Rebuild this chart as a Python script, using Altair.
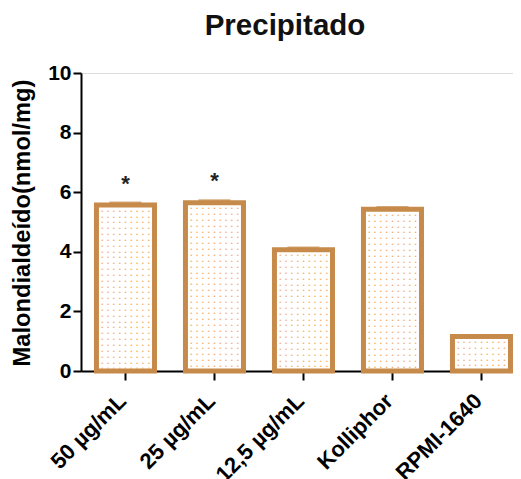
import altair as alt
import pandas as pd

categories = ["50 µg/mL", "25 µg/mL", "12,5 µg/mL", "Kolliphor", "RPMI-1640"]
values = [5.57, 5.65, 4.07, 5.43, 1.16]
errors = [0.08, 0.08, 0.07, 0.07, 0.03]
stars = ["*", "*", "", "", ""]
y_ticks = [0, 2, 4, 6, 8, 10]

STROKE = "#c68a4b"
DOT = "#f5a35a"
FONT = "Liberation Sans"

df = pd.DataFrame({"cat": categories, "value": values, "err": errors, "star": stars})
df["top"] = df["value"] + df["err"]

# dotted texture rows inside each bar (decoration derived from bar heights)
rows = []
for c, v in zip(categories, values):
    y = v - 0.19
    while y > 0.06:
        rows.append({"cat": c, "y": y, "dot": "•"})
        y -= 0.196
dots = pd.DataFrame(rows)

xscale = alt.Scale(domain=categories, paddingInner=0.348, paddingOuter=0.101, align=0.86)
yscale = alt.Scale(domain=[0, 10], nice=False)

x_enc = alt.X(
    "cat:N",
    scale=xscale,
    sort=categories,
    axis=alt.Axis(
        title=None,
        labelAngle=-45,
        labelAlign="right",
        labelBaseline="middle",
        labelFont=FONT,
        labelFontWeight="bold",
        labelFontSize=22,
        labelColor="black",
        labelPadding=17,
        labelOffset=-3,
        tickSize=9,
        tickWidth=2,
        tickColor="black",
        domainWidth=2,
        domainColor="black",
    ),
)

y_enc = alt.Y(
    "value:Q",
    scale=yscale,
    axis=alt.Axis(
        title="Malondialdeído(nmol/mg)",
        values=y_ticks,
        grid=False,
        labelFont=FONT,
        labelFontWeight="bold",
        labelFontSize=21,
        labelColor="black",
        labelPadding=2,
        tickSize=8,
        tickWidth=2,
        tickColor="black",
        domainWidth=2,
        domainColor="black",
        titleFont=FONT,
        titleFontWeight="bold",
        titleFontSize=23.7,
        titleColor="black",
        titleX=-59,
        titleY=149.5,
        titleBaseline="middle",
        titleAlign="center",
        titleAngle=270,
    ),
)

x_plain = alt.X("cat:N", scale=xscale, sort=categories)

bars = alt.Chart(df).mark_bar(fill="white", stroke=STROKE, strokeWidth=5).encode(x=x_enc, y=y_enc)

texture_layers = [
    alt.Chart(dots)
    .mark_text(font=FONT, fontSize=6, color=DOT, opacity=0.85, baseline="middle", dx=(j - 4) * 5.8)
    .encode(x=x_plain, y=alt.Y("y:Q", scale=yscale), text="dot:N")
    for j in range(9)
]

caps = alt.Chart(df).mark_tick(color=STROKE, size=32, thickness=2.2).encode(
    x=x_plain,
    y=alt.Y("top:Q", scale=yscale),
)

star_text = alt.Chart(df).mark_text(
    font=FONT, fontWeight="bold", fontSize=22, color="#222222", baseline="alphabetic", dy=-12
).encode(
    x=x_plain,
    y=alt.Y("top:Q", scale=yscale),
    text="star:N",
)

chart = (
    alt.layer(bars, *texture_layers, caps, star_text)
    .properties(
        width=432,
        height=298,
        autosize=alt.AutoSizeParams(type="none"),
        padding={"left": 73, "top": 65, "right": 0, "bottom": 108},
        title=alt.TitleParams(
            "Precipitado",
            font=FONT,
            fontWeight="bold",
            fontSize=29.5,
            color="#111111",
            anchor="middle",
            frame="group",
            dx=-12,
            offset=21,
        ),
    )
    .configure_view(stroke=None)
    .configure(background="white")
)

chart.save("out.html", embed_options={"renderer": "svg", "actions": False})
